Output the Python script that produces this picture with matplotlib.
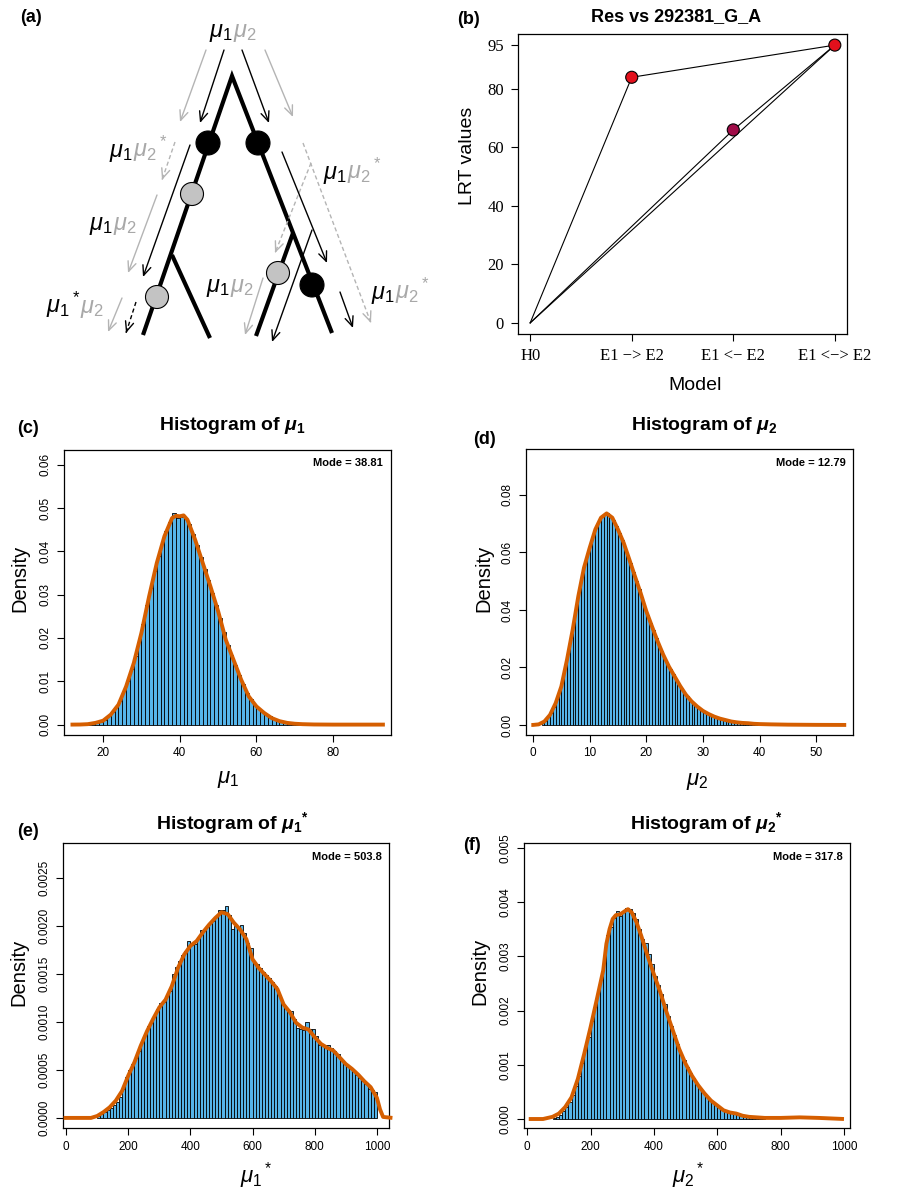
import numpy as np
import matplotlib
matplotlib.use('Agg')
import matplotlib.pyplot as plt
from matplotlib.patches import Circle

plt.rcParams['font.family'] = ['Liberation Sans', 'DejaVu Sans']
plt.rcParams['mathtext.fontset'] = 'custom'
plt.rcParams['mathtext.rm'] = 'Liberation Sans'
plt.rcParams['mathtext.it'] = 'Liberation Sans:italic'
plt.rcParams['mathtext.bf'] = 'Liberation Sans:bold'
if 'mathtext.bfit' in plt.rcParams:
    plt.rcParams['mathtext.bfit'] = 'Liberation Sans:italic:bold'
    BMU = r'\mathbfit{\mu}'
else:
    BMU = r'\mathbf{\mu}'

# ---- (a) diagram: branches, nodes, arrows, labels (pixel coords of panel a)
tree_paths = [[(143, 335), (232, 76), (332, 333)],
              [(172, 255), (210, 338)],
              [(293, 233), (256, 336)]]
black_nodes = [(208, 143), (258, 143), (312, 285)]
grey_nodes = [(192, 194), (157, 297), (278, 273)]
tree_arrows = [(206, 50, 180, 122, 'grey'), (224, 50, 200, 123, 'black'),
               (242, 50, 269, 123, 'black'), (265, 50, 293, 117, 'grey'),
               (175, 142, 162, 180, 'grey_dash'), (190, 145, 143, 277, 'black'),
               (157, 195, 128, 273, 'grey'), (122, 298, 108, 332, 'grey'),
               (136, 302, 126, 333, 'black_dash'),
               (303, 143, 371, 323, 'grey_dash'), (311, 163, 275, 253, 'grey_dash'),
               (282, 152, 327, 263, 'black'), (312, 230, 272, 342, 'black'),
               (263, 278, 245, 335, 'grey'), (340, 292, 353, 328, 'black')]
tree_labels = [(233, 37, r'$\mu_1$', r'$\mu_2$'),
               (133, 157, r'$\mu_1$', r'${\mu_2}^*$'),
               (113, 230, r'$\mu_1$', r'$\mu_2$'),
               (80, 313, r'${\mu_1}^*$', r'$\mu_2$'),
               (347, 179, r'$\mu_1$', r'${\mu_2}^*$'),
               (230, 292, r'$\mu_1$', r'$\mu_2$'),
               (395, 299, r'$\mu_1$', r'${\mu_2}^*$')]

# ---- (b) LRT values
lrt_models = ['H0', 'E1 \u2212> E2', 'E1 <\u2212 E2', 'E1 <\u2212> E2']
lrt_values = [0, 84, 66, 95]
lrt_links = [(0, 1), (1, 3), (0, 2), (2, 3), (0, 3)]
lrt_colors = ['none', '#e3101c', '#a00c48', '#e3101c']
lrt_yticks = [0, 20, 40, 60, 80, 95]

# ---- (c) mu1 histogram (bin width 1 from 15)
c_start, c_width = 15, 1
c_density = [0.0001, 0.0002, 0.0003, 0.0005, 0.0007, 0.0011, 0.0019, 0.0029, 0.0040, 0.0055,
             0.0077, 0.0100, 0.0128, 0.0159, 0.0194, 0.0233, 0.0275, 0.0316, 0.0355, 0.0390,
             0.0421, 0.0447, 0.0468, 0.0488, 0.0478, 0.0480, 0.0476, 0.0464, 0.0441, 0.0414,
             0.0387, 0.0360, 0.0333, 0.0305, 0.0276, 0.0246, 0.0213, 0.0183, 0.0161, 0.0138,
             0.0115, 0.0093, 0.0074, 0.0059, 0.0047, 0.0039, 0.0032, 0.0025, 0.0019, 0.0014,
             0.0011, 0.0008, 0.0006, 0.0004, 0.0003, 0.0002, 0.0001, 0.0001, 0.00005, 0.00003]
c_curve_x = [11.5, 14, 16, 18, 20, 22, 24, 26, 28, 30, 32, 34, 36, 38, 39, 40, 41, 42, 44, 46,
             48, 50, 52, 54, 56, 58, 60, 62, 64, 66, 68, 70, 72, 75, 80, 93.5]
c_curve_y = [0, 0.00002, 0.0001, 0.0004, 0.0009, 0.0023, 0.0046, 0.0088, 0.0142, 0.0212,
             0.0296, 0.0373, 0.0435, 0.0477, 0.0482, 0.0481, 0.0483, 0.0473, 0.0427, 0.0373,
             0.0319, 0.0262, 0.0196, 0.0150, 0.0104, 0.0065, 0.0042, 0.0027, 0.0015, 0.0008,
             0.0004, 0.0002, 0.0001, 0.00003, 0, 0]

# ---- (d) mu2 histogram (bin width 0.5 from 1.5)
d_start, d_width = 1.5, 0.5
d_density = [0.0008, 0.0015, 0.0028, 0.0043, 0.0064, 0.0090, 0.0118, 0.0155, 0.0200, 0.0250,
             0.0305, 0.0360, 0.0420, 0.0475, 0.0525, 0.0565, 0.0600, 0.0632, 0.0662, 0.0690,
             0.0710, 0.0725, 0.0735, 0.0737, 0.0728, 0.0712, 0.0692, 0.0668, 0.0645, 0.0620,
             0.0590, 0.0562, 0.0532, 0.0502, 0.0474, 0.0444, 0.0412, 0.0382, 0.0355, 0.0330,
             0.0303, 0.0279, 0.0256, 0.0233, 0.0213, 0.0194, 0.0177, 0.0160, 0.0143, 0.0127,
             0.0112, 0.0099, 0.0087, 0.0077, 0.0068, 0.0060, 0.0052, 0.0046, 0.0040, 0.0035,
             0.0031, 0.0027, 0.0024, 0.0021, 0.0018, 0.0016, 0.0013, 0.0011, 0.0010, 0.0009,
             0.0008, 0.0007, 0.0006, 0.0005, 0.0005, 0.0004, 0.0003, 0.0003, 0.0002, 0.0002,
             0.0002, 0.0001, 0.0001]
d_curve_x = [-0.3, 0, 1, 2, 3, 4, 5, 6, 7, 8, 9, 10, 11, 12, 13, 14, 15, 16, 17, 18, 19, 20,
             21, 22, 23, 24, 25, 26, 27, 28, 29, 30, 31, 32, 33, 34, 35, 36, 37, 38, 39, 40,
             42, 45, 50, 55.3]
d_curve_y = [0, 0, 0.0002, 0.0012, 0.0035, 0.0076, 0.0134, 0.0227, 0.0331, 0.0448, 0.0547,
             0.0616, 0.0680, 0.0721, 0.0736, 0.0721, 0.0680, 0.0634, 0.0576, 0.0517, 0.0459,
             0.0396, 0.0343, 0.0291, 0.0244, 0.0203, 0.0169, 0.0135, 0.0105, 0.0082, 0.0064,
             0.0049, 0.0038, 0.0029, 0.0022, 0.0017, 0.0012, 0.0009, 0.0007, 0.0006, 0.0004,
             0.0003, 0.0002, 0.0001, 0.00003, 0]

# ---- (e) mu1* histogram (bin width 10 from 100), density in 1e-3
e_start, e_width = 100, 10
e_density = [0.02, 0.04, 0.06, 0.08, 0.10, 0.13, 0.17, 0.22, 0.30, 0.43,
             0.50, 0.56, 0.62, 0.70, 0.80, 0.86, 0.96, 0.99, 1.05, 1.13,
             1.20, 1.21, 1.27, 1.32, 1.50, 1.57, 1.63, 1.69, 1.74, 1.84,
             1.80, 1.81, 1.88, 1.95, 1.94, 1.99, 2.03, 2.05, 2.10, 2.16,
             2.16, 2.20, 2.11, 1.97, 2.00, 1.99, 2.01, 1.92, 1.82, 1.77,
             1.62, 1.60, 1.56, 1.52, 1.49, 1.46, 1.41, 1.37, 1.28, 1.20,
             1.15, 1.12, 1.11, 1.03, 0.94, 0.93, 0.91, 1.00, 0.93, 0.93,
             0.85, 0.76, 0.76, 0.76, 0.76, 0.73, 0.70, 0.66, 0.60, 0.56,
             0.54, 0.51, 0.49, 0.45, 0.42, 0.38, 0.35, 0.30, 0.29, 0.27]
e_curve_x = [-8, 80, 100, 120, 140, 160, 180, 200, 220, 240, 260, 280, 300, 320, 340, 360,
             380, 400, 420, 440, 460, 480, 500, 520, 540, 560, 580, 600, 620, 640, 660, 680,
             700, 720, 740, 760, 780, 800, 820, 840, 860, 880, 900, 920, 940, 960, 980, 1000,
             1010, 1020, 1050]
e_curve_y = [0, 0, 0.02, 0.06, 0.11, 0.18, 0.28, 0.44, 0.58, 0.75, 0.90, 1.03, 1.15, 1.23,
             1.37, 1.56, 1.70, 1.79, 1.84, 1.93, 2.01, 2.08, 2.14, 2.12, 2.03, 1.96, 1.86,
             1.65, 1.56, 1.49, 1.42, 1.34, 1.18, 1.10, 0.99, 0.94, 0.92, 0.84, 0.77, 0.73,
             0.70, 0.63, 0.56, 0.51, 0.45, 0.38, 0.32, 0.21, 0.09, 0.01, 0]

# ---- (f) mu2* histogram (bin width 10 from 80), density in 1e-3
f_start, f_width = 80, 10
f_density = [0.02, 0.04, 0.08, 0.14, 0.22, 0.31, 0.44, 0.60, 0.80, 1.03,
             1.27, 1.52, 1.80, 2.06, 2.34, 2.62, 2.98, 3.40, 3.55, 3.70,
             3.83, 3.74, 3.82, 3.90, 3.88, 3.80, 3.68, 3.50, 3.32, 3.24,
             3.05, 2.85, 2.63, 2.48, 2.30, 2.13, 1.90, 1.72, 1.55, 1.38,
             1.22, 1.08, 0.96, 0.85, 0.75, 0.66, 0.58, 0.50, 0.43, 0.37,
             0.31, 0.27, 0.23, 0.19, 0.15, 0.13, 0.12, 0.11, 0.09, 0.07,
             0.06, 0.05, 0.04, 0.03, 0.03, 0.02, 0.02]
f_curve_x = [5, 50, 80, 100, 120, 140, 160, 180, 200, 220, 240, 250, 260, 270, 280, 295, 310,
             318, 330, 345, 360, 380, 400, 420, 440, 460, 480, 500, 520, 540, 560, 580, 600,
             620, 640, 660, 680, 700, 750, 800, 860, 920, 1000]
f_curve_y = [0, 0, 0.04, 0.10, 0.22, 0.40, 0.74, 1.20, 1.69, 2.21, 2.74, 3.23, 3.50, 3.69,
             3.76, 3.78, 3.84, 3.87, 3.81, 3.63, 3.38, 3.01, 2.67, 2.34, 1.97, 1.63, 1.29,
             1.02, 0.80, 0.62, 0.47, 0.34, 0.25, 0.16, 0.12, 0.10, 0.06, 0.04, 0.02, 0.02,
             0.03, 0.02, 0]

BAR = '#56b4e9'
CURVE = '#d55e00'
GREY = '#b4b4b4'
W, H = 907, 1190

fig = plt.figure(figsize=(W / 100, H / 100), dpi=100)


def px_rect(l, t, r, b):
    return [l / W, 1 - b / H, (r - l) / W, (b - t) / H]


def ftext(x, y, s, **kw):
    return fig.text(x / W, 1 - y / H, s, **kw)


# ---------------- panel (a)
axa = fig.add_axes(px_rect(0, 0, 450, 375))
axa.set_xlim(0, 450)
axa.set_ylim(375, 0)
axa.axis('off')
for path in tree_paths:
    xs, ys = zip(*path)
    axa.plot(xs, ys, color='black', lw=3.0, solid_joinstyle='miter', solid_capstyle='butt')
for x0, y0, x1, y1, kind in tree_arrows:
    col = 'black' if kind.startswith('black') else GREY
    if kind.endswith('dash'):
        axa.plot([x0, x1], [y0, y1], color=col, lw=1.0, dashes=(3, 2))
        # head only
        axa.annotate('', xy=(x1, y1), xytext=(x1 - (x1 - x0) * 0.02, y1 - (y1 - y0) * 0.02),
                     arrowprops=dict(arrowstyle='->,head_length=0.7,head_width=0.3',
                                     color=col, lw=1.0, shrinkA=0, shrinkB=0))
    else:
        axa.annotate('', xy=(x1, y1), xytext=(x0, y0),
                     arrowprops=dict(arrowstyle='->,head_length=0.7,head_width=0.3',
                                     color=col, lw=1.0, shrinkA=0, shrinkB=0))
for x, y in black_nodes:
    axa.add_patch(Circle((x, y), 12, facecolor='black', edgecolor='black', lw=0.8, zorder=4))
for x, y in grey_nodes:
    axa.add_patch(Circle((x, y), 11.5, facecolor='#c3c3c3', edgecolor='black', lw=0.8, zorder=4))
for x, y, left, right in tree_labels:
    axa.text(x, y, left, color='black', fontsize=17, ha='right', va='baseline')
    axa.text(x, y, right, color='#a8a8a8', fontsize=17, ha='left', va='baseline')

# ---------------- panel (b)
axb = fig.add_axes(px_rect(518, 34, 847, 334))
xpos = np.arange(1, len(lrt_models) + 1)
for i, j in lrt_links:
    axb.plot([xpos[i], xpos[j]], [lrt_values[i], lrt_values[j]], color='black', lw=0.8)
axb.scatter(xpos[1:], lrt_values[1:], s=75, c=lrt_colors[1:], edgecolors='black',
            linewidths=0.8, zorder=3)
axb.set_xlim(0.88, 4.12)
axb.set_ylim(-3.8, 98.8)
axb.set_xticks(xpos)
axb.set_xticklabels(lrt_models, fontfamily=['Liberation Serif', 'DejaVu Serif'], fontsize=12)
axb.set_yticks(lrt_yticks)
axb.set_yticklabels([str(v) for v in lrt_yticks],
                    fontfamily=['Liberation Serif', 'DejaVu Serif'], fontsize=12)
axb.tick_params(length=5, width=0.8, pad=5)
for s in axb.spines.values():
    s.set_linewidth(0.9)
ftext(676, 17, 'Res vs 292381_G_A', fontsize=13, fontweight='bold', ha='center', va='center')
ftext(468, 156, 'LRT values', fontsize=14, rotation=90, ha='center', va='center')
ftext(695, 385, 'Model', fontsize=14, ha='center', va='center')


# ---------------- histograms
def hist_panel(rect, start, width, dens, cx, cy, xlim, ylim, xticks, yticks, yfmt):
    ax = fig.add_axes(px_rect(*rect))
    edges = start + width * np.arange(len(dens))
    ax.bar(edges, dens, width=width, align='edge', color=BAR, edgecolor='black', linewidth=0.6)
    ax.plot(cx, cy, color=CURVE, lw=2.8, solid_capstyle='butt', zorder=3, clip_on=False)
    ax.set_xlim(xlim)
    ax.set_ylim(ylim)
    ax.set_xticks(xticks)
    ax.set_yticks(yticks)
    ax.set_yticklabels([yfmt.format(v) for v in yticks], rotation=90, va='center')
    ax.tick_params(labelsize=8.5, length=5, width=0.8, pad=4)
    for s in ax.spines.values():
        s.set_linewidth(0.9)
    return ax


hist_panel((64, 450, 391, 735), c_start, c_width, c_density, c_curve_x, c_curve_y,
           (9.8, 95.1), (-0.0024, 0.0634), [20, 40, 60, 80],
           [0, 0.01, 0.02, 0.03, 0.04, 0.05, 0.06], '{:.2f}')
hist_panel((526, 449, 853, 735), d_start, d_width, d_density, d_curve_x, d_curve_y,
           (-1.24, 56.5), (-0.0035, 0.096), [0, 10, 20, 30, 40, 50],
           [0, 0.02, 0.04, 0.06, 0.08], '{:.2f}')
hist_panel((63, 843, 389, 1128), e_start, e_width, np.array(e_density) * 1e-3,
           e_curve_x, np.array(e_curve_y) * 1e-3,
           (-10, 1039), (-0.000105, 0.00286), [0, 200, 400, 600, 800, 1000],
           [0, 0.0005, 0.001, 0.0015, 0.002, 0.0025], '{:.4f}')
hist_panel((524, 843, 850, 1128), f_start, f_width, np.array(f_density) * 1e-3,
           f_curve_x, np.array(f_curve_y) * 1e-3,
           (-10, 1019), (-0.000166, 0.00509), [0, 200, 400, 600, 800, 1000],
           [0, 0.001, 0.002, 0.003, 0.004, 0.005], '{:.3f}')

# titles, labels, mode text
ftext(232, 425, r'Histogram of $' + BMU + r'_\mathbf{1}$', fontsize=14, fontweight='bold',
      ha='center', va='center')
ftext(704, 425, r'Histogram of $' + BMU + r'_\mathbf{2}$', fontsize=14, fontweight='bold',
      ha='center', va='center')
ftext(233, 823, r'Histogram of ${' + BMU + r'_\mathbf{1}}^\mathbf{*}$', fontsize=14,
      fontweight='bold', ha='center', va='center')
ftext(707, 823, r'Histogram of ${' + BMU + r'_\mathbf{2}}^\mathbf{*}$', fontsize=14,
      fontweight='bold', ha='center', va='center')

for x, y, s in [(383, 463, 'Mode = 38.81'), (846, 463, 'Mode = 12.79'),
                (382, 857, 'Mode = 503.8'), (843, 857, 'Mode = 317.8')]:
    ftext(x, y, s, fontsize=8, fontweight='bold', ha='right', va='center')

for x, y, s in [(228, 780, r'$\mu_1$'), (697, 782, r'$\mu_2$'),
                (256, 1176, r'${\mu_1}^*$'), (688, 1176, r'${\mu_2}^*$')]:
    ftext(x, y, s, fontsize=16, ha='center', va='center')

for x, y in [(20, 578), (484, 578), (19, 972), (480, 971)]:
    ftext(x, y, 'Density', fontsize=14.5, rotation=90, ha='center', va='center')

for x, y, s in [(31, 18, '(a)'), (468, 19, '(b)'), (28, 428, '(c)'), (484, 440, '(d)'),
                (28, 832, '(e)'), (472, 845, '(f)')]:
    ftext(x, y, s, fontsize=13, fontweight='bold', ha='center', va='center')

fig.savefig('out.png', dpi=100)
